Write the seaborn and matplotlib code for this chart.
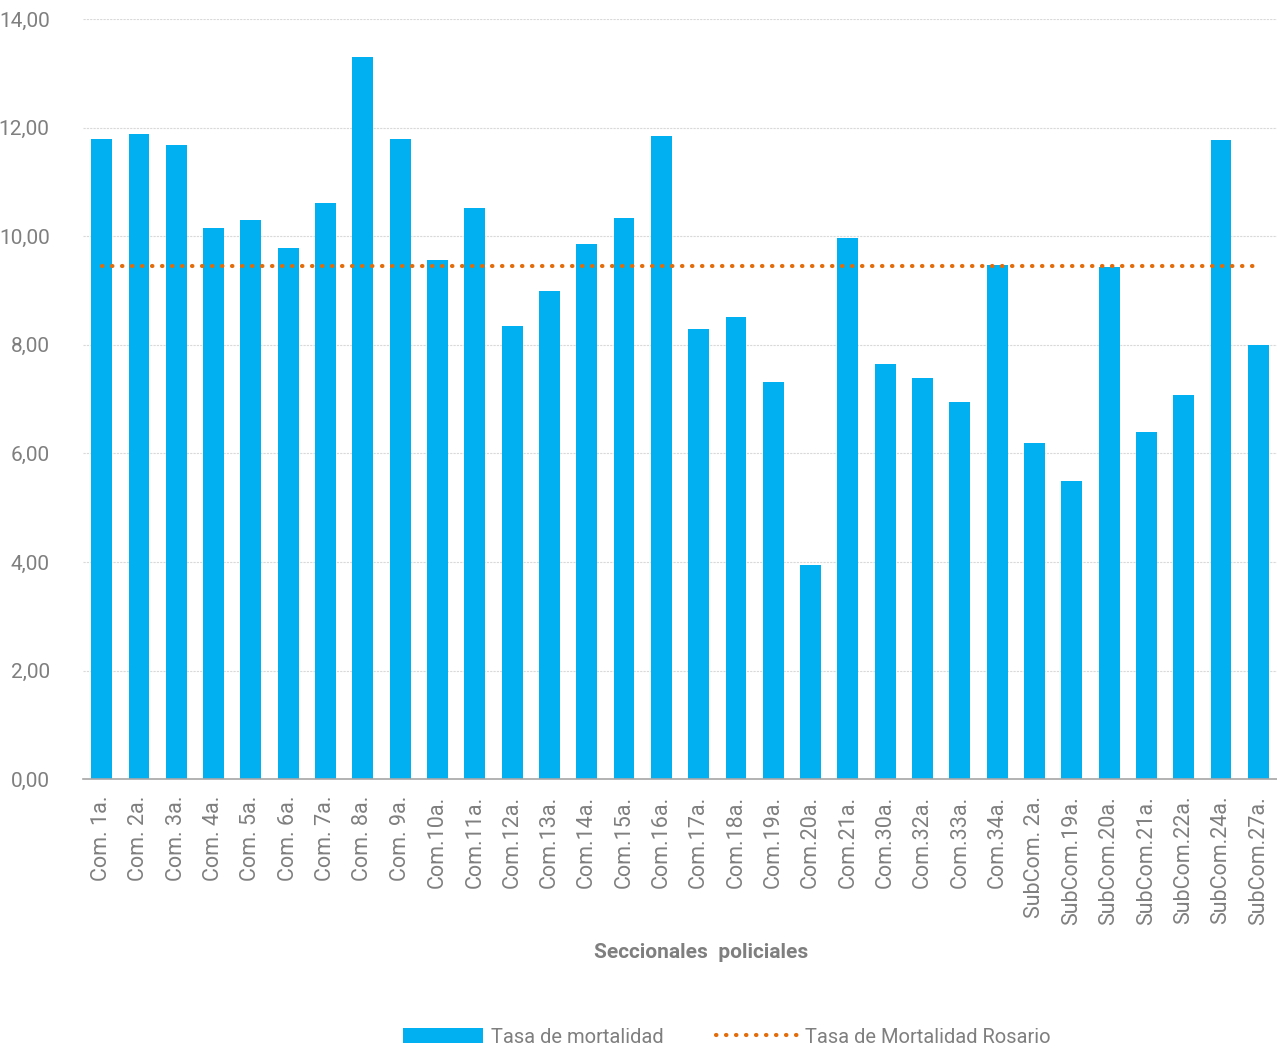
import numpy as np
import pandas as pd
import matplotlib.pyplot as plt
import seaborn as sns
from matplotlib.patches import Patch
from matplotlib.lines import Line2D
from matplotlib.ticker import FuncFormatter, FixedLocator

seccionales = ["Com. 1a.", "Com. 2a.", "Com. 3a.", "Com. 4a.", "Com. 5a.", "Com. 6a.",
               "Com. 7a.", "Com. 8a.", "Com. 9a.", "Com.10a.", "Com.11a.", "Com.12a.",
               "Com.13a.", "Com.14a.", "Com.15a.", "Com.16a.", "Com.17a.", "Com.18a.",
               "Com.19a.", "Com.20a.", "Com.21a.", "Com.30a.", "Com.32a.", "Com.33a.",
               "Com.34a.", "SubCom. 2a.", "SubCom.19a.", "SubCom.20a.", "SubCom.21a.",
               "SubCom.22a.", "SubCom.24a.", "SubCom.27a."]
tasa = [11.79, 11.88, 11.68, 10.15, 10.30, 9.78, 10.61, 13.30, 11.79, 9.56, 10.52, 8.34,
        8.99, 9.85, 10.33, 11.84, 8.29, 8.51, 7.31, 3.94, 9.97, 7.64, 7.39, 6.94,
        9.47, 6.19, 5.49, 9.43, 6.39, 7.07, 11.77, 7.99]
tasa_rosario = 9.45

azul = "#00B0F0"
naranja = "#E36C0A"
gris = "#7F7F7F"

df = pd.DataFrame({"seccional": seccionales, "tasa": tasa})

sns.set_style("white")
plt.rcParams["font.family"] = ["Roboto", "DejaVu Sans"]

fig = plt.figure(figsize=(12.77, 10.5), dpi=100)
ax = fig.add_axes([0.065, 0.258, 0.935, 0.724])

sns.barplot(data=df, x="seccional", y="tasa", color=azul, saturation=1,
            width=0.56, ax=ax, edgecolor="none")

n = len(seccionales)
punteado = (0, (0.1, 2.3))
ax.plot(np.arange(n), [tasa_rosario] * n, color=naranja, lw=3.0,
        linestyle=punteado, dash_capstyle="round", zorder=3)

ax.set_ylim(0, 14)
ax.set_xlim(-0.5, n - 0.5)
ax.set_yticks(np.arange(0, 15, 2))
ax.yaxis.set_major_formatter(FuncFormatter(lambda v, p: f"{v:.2f}".replace(".", ",")))
ax.yaxis.grid(True, color="#D9D9D9", linestyle=(0, (2, 1)), lw=0.8)
ax.set_axisbelow(True)

for s in ["top", "right", "left"]:
    ax.spines[s].set_visible(False)
ax.spines["bottom"].set_color("#A6A6A6")
ax.spines["bottom"].set_linewidth(1.2)

ax.tick_params(axis="y", length=0, labelsize=15, labelcolor=gris, pad=24)
ax.tick_params(axis="x", which="major", length=0, labelsize=15.5, labelcolor=gris,
               rotation=90, pad=12)
ax.xaxis.set_minor_locator(FixedLocator(np.arange(-0.5, n, 1.0)))
ax.tick_params(axis="x", which="minor", length=8, color="#A6A6A6", width=1)

ax.set_ylabel("")
ax.set_xlabel("Seccionales  policiales", fontsize=15, fontweight="bold",
              color=gris, labelpad=14)
ax.xaxis.set_label_coords(0.518, -0.216)

handles = [Patch(facecolor=azul, edgecolor="none"),
           Line2D([0], [0], color=naranja, lw=3.0, linestyle=punteado,
                  dash_capstyle="round")]
fig.legend(handles, ["Tasa de mortalidad", "Tasa de Mortalidad Rosario"],
           loc="lower center", bbox_to_anchor=(0.569, -0.014), ncol=2, frameon=False,
           fontsize=14.5, labelcolor=gris, handlelength=4.0, handleheight=0.8,
           columnspacing=2.6, handletextpad=0.4)

fig.savefig("out.png", dpi=100)
